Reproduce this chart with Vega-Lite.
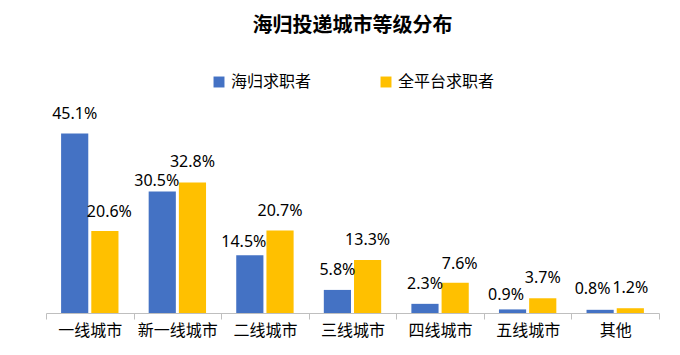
{
  "$schema": "https://vega.github.io/schema/vega-lite/v6.json",
  "width": 613,
  "height": 199,
  "autosize": {"type": "none"},
  "padding": {"left": 46, "top": 114, "right": 21, "bottom": 42},
  "background": "white",
  "title": {
    "text": "海归投递城市等级分布",
    "font": "Noto Sans CJK SC",
    "fontSize": 20,
    "fontWeight": "bold",
    "color": "#000000",
    "anchor": "middle",
    "offset": 38
  },
  "data": {
    "values": [
      {"city": "一线城市", "group": "海归求职者", "value": 0.451},
      {"city": "一线城市", "group": "全平台求职者", "value": 0.206},
      {"city": "新一线城市", "group": "海归求职者", "value": 0.305},
      {"city": "新一线城市", "group": "全平台求职者", "value": 0.328},
      {"city": "二线城市", "group": "海归求职者", "value": 0.145},
      {"city": "二线城市", "group": "全平台求职者", "value": 0.207},
      {"city": "三线城市", "group": "海归求职者", "value": 0.058},
      {"city": "三线城市", "group": "全平台求职者", "value": 0.133},
      {"city": "四线城市", "group": "海归求职者", "value": 0.023},
      {"city": "四线城市", "group": "全平台求职者", "value": 0.076},
      {"city": "五线城市", "group": "海归求职者", "value": 0.009},
      {"city": "五线城市", "group": "全平台求职者", "value": 0.037},
      {"city": "其他", "group": "海归求职者", "value": 0.008},
      {"city": "其他", "group": "全平台求职者", "value": 0.012}
    ]
  },
  "encoding": {
    "x": {
      "field": "city",
      "type": "nominal",
      "sort": ["一线城市", "新一线城市", "二线城市", "三线城市", "四线城市", "五线城市", "其他"],
      "scale": {"paddingInner": 0, "paddingOuter": 0},
      "axis": {
        "title": null,
        "labelAngle": 0,
        "labelFont": "Noto Sans CJK SC",
        "labelFontSize": 16,
        "labelColor": "#000000",
        "labelPadding": 3,
        "domainColor": "#BFBFBF",
        "tickColor": "#BFBFBF",
        "tickSize": 6,
        "tickBand": "extent",
        "grid": false
      }
    },
    "xOffset": {
      "field": "group",
      "type": "nominal",
      "sort": ["海归求职者", "全平台求职者"],
      "scale": {"paddingInner": 0.1, "paddingOuter": 0.5}
    },
    "y": {
      "field": "value",
      "type": "quantitative",
      "scale": {"domain": [0, 0.5]},
      "axis": null
    },
    "text": {"field": "value", "type": "quantitative", "format": ".1%"}
  },
  "layer": [
    {
      "mark": {"type": "bar"},
      "encoding": {
        "color": {
          "field": "group",
          "type": "nominal",
          "sort": ["海归求职者", "全平台求职者"],
          "scale": {"domain": ["海归求职者", "全平台求职者"], "range": ["#4472C4", "#FFC000"]},
          "legend": {
            "title": null,
            "orient": "top",
            "direction": "horizontal",
            "symbolType": "square",
            "symbolSize": 120,
            "symbolStrokeWidth": 0,
            "labelFont": "Noto Sans CJK SC",
            "labelFontSize": 16,
            "labelColor": "#000000",
            "columnPadding": 66,
            "offset": 24
          }
        }
      }
    },
    {
      "transform": [{"filter": "!((datum.group === '海归求职者' && (datum.city === '新一线城市' || datum.city === '二线城市' || datum.city === '五线城市' || datum.city === '其他')) || (datum.group === '全平台求职者' && (datum.city === '一线城市' || datum.city === '四线城市')))"}],
      "mark": {"type": "text", "baseline": "middle", "dy": -20, "font": "Noto Sans", "fontSize": 16, "color": "#000000"}
    },
    {
      "transform": [{"filter": "datum.group === '海归求职者' && datum.city === '新一线城市'"}],
      "mark": {"type": "text", "baseline": "middle", "dx": -5.5, "dy": -10.5, "font": "Noto Sans", "fontSize": 16, "color": "#000000"}
    },
    {
      "transform": [{"filter": "datum.group === '海归求职者' && datum.city === '二线城市'"}],
      "mark": {"type": "text", "baseline": "middle", "dx": -6, "dy": -13, "font": "Noto Sans", "fontSize": 16, "color": "#000000"}
    },
    {
      "transform": [{"filter": "datum.group === '海归求职者' && datum.city === '五线城市'"}],
      "mark": {"type": "text", "baseline": "middle", "dx": -6.5, "dy": -14, "font": "Noto Sans", "fontSize": 16, "color": "#000000"}
    },
    {
      "transform": [{"filter": "datum.group === '海归求职者' && datum.city === '其他'"}],
      "mark": {"type": "text", "baseline": "middle", "dx": -7.5, "dy": -21, "font": "Noto Sans", "fontSize": 16, "color": "#000000"}
    },
    {
      "transform": [{"filter": "datum.group === '全平台求职者' && (datum.city === '一线城市' || datum.city === '四线城市')"}],
      "mark": {"type": "text", "baseline": "middle", "dx": 4.5, "dy": -19, "font": "Noto Sans", "fontSize": 16, "color": "#000000"}
    }
  ],
  "config": {
    "view": {"stroke": null},
    "legend": {"layout": {"top": {"anchor": "middle"}}}
  }
}
